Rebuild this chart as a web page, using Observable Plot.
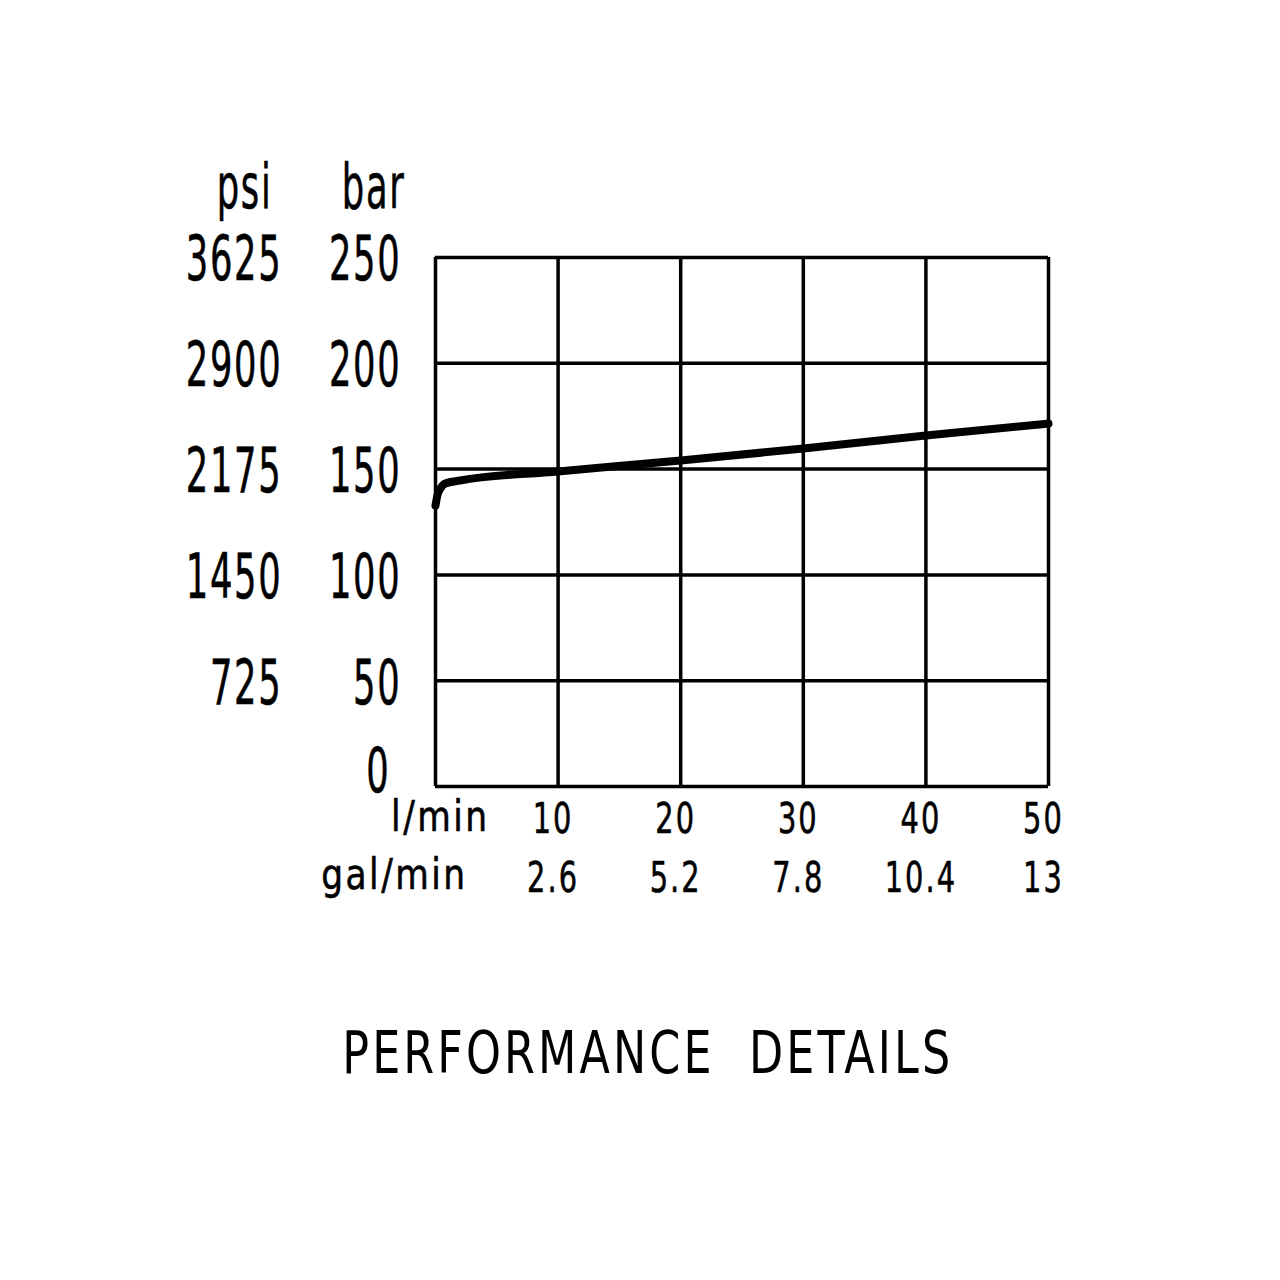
<!DOCTYPE html>
<html>
<head>
<meta charset="utf-8">
<script src="https://cdn.jsdelivr.net/npm/d3@7"></script>
<script src="https://cdn.jsdelivr.net/npm/@observablehq/plot@0.6"></script>
<style>
  body { margin: 0; background: #fff; }
  #chart svg { display: block; }
  #title { width: 1280px; height: 80px; margin-top: 63px; text-align: center; font-family: "DejaVu Sans", sans-serif; font-size: 59px; line-height: 59px; color: #000; white-space: nowrap; }
  #title span { display: inline-block; transform-origin: center; margin-left: 15px; letter-spacing: 0.07em; }
</style>
</head>
<body>
<div id="chart"></div>
<div id="title"><span>PERFORMANCE&nbsp; DETAILS</span></div>
<script>
// Curve: flow (l/min) vs pressure (bar)
const flow     = [0,     0.15,  0.4,   0.8,   2,     10,    20,    30,    40,    50];
const pressure = [132.8, 137.5, 140.8, 143.2, 144.6, 148.9, 154.1, 159.7, 165.9, 171.5];

// Axes
const gridFlow  = [0, 10, 20, 30, 40, 50];
const flowTicks = [10, 20, 30, 40, 50];
const galLabels = ["2.6", "5.2", "7.8", "10.4", "13"];
const barTicks  = [0, 50, 100, 150, 200, 250];
const psiLabels = ["", "725", "1450", "2175", "2900", "3625"];

const curve = flow.map((f, i) => ({flow: f, bar: pressure[i]}));
const xRows = flowTicks.map((f, i) => ({flow: f, lmin: String(f), gal: galLabels[i]}));
const yRows = barTicks.map((b, i) => ({bar: b, psi: psiLabels[i]}));

const FONT = "DejaVu Sans";
const YSIZE = 62, XSIZE = 42.5, USIZE = 42;

const chart = Plot.plot({
  width: 1280,
  height: 960,
  marginLeft: 435,
  marginRight: 232,
  marginTop: 257,
  marginBottom: 174,
  style: {fontFamily: FONT, background: "#fff", color: "#000"},
  x: {domain: [0, 50], axis: null},
  y: {domain: [0, 250], axis: null},
  marks: [
    Plot.ruleX(gridFlow, {x: d => d, stroke: "#000", strokeWidth: 3.5}),
    Plot.ruleY(barTicks, {y: d => d, stroke: "#000", strokeWidth: 3.5}),
    Plot.line(curve, {x: "flow", y: "bar", curve: "monotone-x", stroke: "#000", strokeWidth: 8, strokeLinecap: "round", strokeLinejoin: "round"}),
    // bar labels
    Plot.text(yRows.filter(d => d.bar > 0), {frameAnchor: "left", y: "bar", text: d => String(d.bar), textAnchor: "end", dx: -34, dy: 3, fontSize: YSIZE, fill: "#000"}),
    Plot.text(yRows.filter(d => d.bar === 0), {frameAnchor: "left", y: "bar", text: d => String(d.bar), textAnchor: "end", dx: -45, dy: -14, fontSize: YSIZE, fill: "#000"}),
    // psi labels
    Plot.text(yRows.filter(d => d.psi !== ""), {frameAnchor: "left", y: "bar", text: "psi", textAnchor: "end", dx: -153, dy: 3, fontSize: YSIZE, fill: "#000"}),
    // unit headers
    Plot.text(["bar"], {frameAnchor: "top-left", text: d => d, textAnchor: "end", lineAnchor: "bottom", dx: -30, dy: -50, fontSize: YSIZE, fill: "#000"}),
    Plot.text(["psi"], {frameAnchor: "top-left", text: d => d, textAnchor: "end", lineAnchor: "bottom", dx: -163, dy: -50, fontSize: YSIZE, fill: "#000"}),
    // x labels
    Plot.text(xRows, {x: "flow", frameAnchor: "bottom", text: "lmin", lineAnchor: "bottom", dx: -5, dy: 46, fontSize: XSIZE, fill: "#000"}),
    Plot.text(xRows, {x: "flow", frameAnchor: "bottom", text: "gal", lineAnchor: "bottom", dx: -5, dy: 105, fontSize: XSIZE, fill: "#000"}),
    Plot.text(["l/min"], {frameAnchor: "bottom-left", text: d => d, textAnchor: "end", lineAnchor: "bottom", dx: 54, dy: 44, fontSize: USIZE, fill: "#000"}),
    Plot.text(["gal/min"], {frameAnchor: "bottom-left", text: d => d, textAnchor: "end", lineAnchor: "bottom", dx: 32, dy: 102, fontSize: USIZE, fill: "#000"})
  ]
});
document.getElementById("chart").append(chart);

// Narrow the lettering to the condensed technical style of the drawing
chart.querySelectorAll('g[aria-label="text"]').forEach(g => {
  const fs = parseFloat(g.getAttribute("font-size"));
  const s = fs >= 60 ? 0.57 : fs === USIZE ? 0.82 : 0.68;
  g.querySelectorAll("text").forEach(t => {
    let tr = t.getAttribute("transform");
    if (!tr) {
      const x = t.getAttribute("x") || 0, y = t.getAttribute("y") || 0;
      t.removeAttribute("x"); t.removeAttribute("y");
      tr = `translate(${x},${y})`;
    }
    t.setAttribute("transform", tr + ` scale(${s},1)`);
    t.setAttribute("letter-spacing", "3");
    t.setAttribute("stroke", "#000");
    t.setAttribute("stroke-width", "0.6");
  });
});

// Title width
const span = document.querySelector("#title span");
const w = span.getBoundingClientRect().width;
span.style.transform = `scaleX(${611 / w})`;
</script>
</body>
</html>
